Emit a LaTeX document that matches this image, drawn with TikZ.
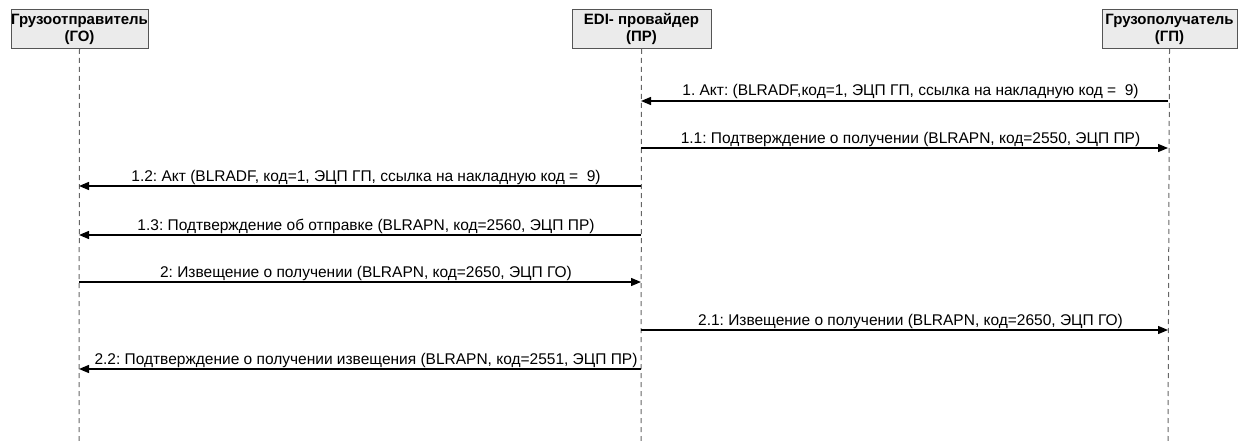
\documentclass[tikz,border=0pt]{standalone}
\usepackage{fontspec}
\setmainfont{Liberation Sans}
\usetikzlibrary{arrows.meta}
\definecolor{boxfill}{HTML}{EBEBEB}
\definecolor{boxline}{HTML}{555555}
\definecolor{lifegray}{HTML}{666666}
\frenchspacing
\begin{document}
\begin{tikzpicture}[x=1pt,y=-1pt,
  actor/.style={draw=boxline,line width=1pt,fill=boxfill,minimum height=39pt,inner sep=0pt,
    font=\fontsize{15}{17}\selectfont\bfseries,align=center,anchor=north},
  lifeline/.style={draw=lifegray,line width=1pt,dash pattern=on 5pt off 4pt},
  msg/.style={draw=black,line width=1.3pt,-{Triangle[length=10pt,width=8pt]}},
  lbl/.style={font=\fontsize{15.5}{17}\selectfont,inner sep=0pt,anchor=base,yshift=5pt,xshift=6pt}
]
\useasboundingbox (0,0) rectangle (1239,441);
% actors
\node[actor,minimum width=137pt] (go) at (79.5,9) {Грузоотправитель\\(ГО)};
\node[actor,minimum width=139pt] (pr) at (641.5,9) {EDI- провайдер\\(ПР)};
\node[actor,minimum width=135pt] (gp) at (1169.5,9) {Грузополучатель\\(ГП)};
% lifeline ends
\coordinate (goend) at (79,441);
\coordinate (prend) at (641,441);
\coordinate (gpend) at (1168,441);
\draw[lifeline] (go.south) -- (goend);
\draw[lifeline] (pr.south) -- (prend);
\draw[lifeline] (gp.south) -- (gpend);
% message points
\foreach \n/\y in {1/101,2/148,3/186,4/235,5/282,6/330,7/369}{
  \coordinate (go\n) at (79,\y);
  \coordinate (pr\n) at (641,\y);
  \coordinate (gp\n) at (1168,\y);
}
% messages
\draw[msg] (gp1) -- node[lbl] (m1) {1. Акт: (BLRADF,код=1, ЭЦП ГП, ссылка на накладную код =~~9)} (pr1);
\draw[msg] (pr2) -- node[lbl] (m2) {1.1: Подтверждение о получении (BLRAPN, код=2550, ЭЦП ПР)} (gp2);
\draw[msg] (pr3) -- node[lbl] (m3) {1.2: Акт (BLRADF, код=1, ЭЦП ГП, ссылка на накладную код =~~9)} (go3);
\draw[msg] (pr4) -- node[lbl] (m4) {1.3: Подтверждение об отправке (BLRAPN, код=2560, ЭЦП ПР)} (go4);
\draw[msg] (go5) -- node[lbl] (m5) {2: Извещение о получении (BLRAPN, код=2650, ЭЦП ГО)} (pr5);
\draw[msg] (pr6) -- node[lbl] (m6) {2.1: Извещение о получении (BLRAPN, код=2650, ЭЦП ГО)} (gp6);
\draw[msg] (pr7) -- node[lbl] (m7) {2.2: Подтверждение о получении извещения (BLRAPN, код=2551, ЭЦП ПР)} (go7);
\end{tikzpicture}
\end{document}
